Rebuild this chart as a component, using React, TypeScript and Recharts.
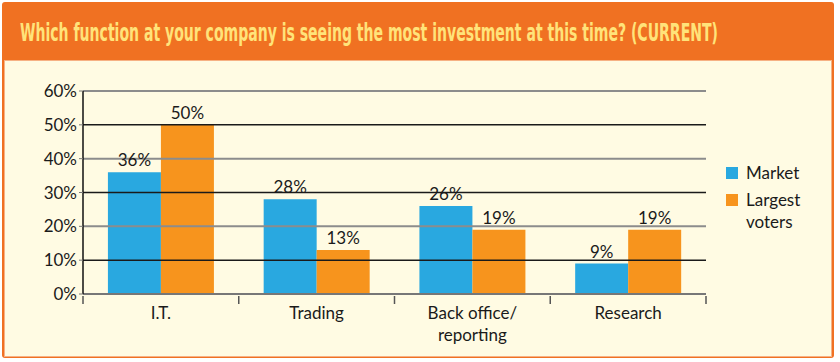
import { BarChart, Bar, XAxis, YAxis, ReferenceLine, LabelList } from "recharts";

const categories = ["I.T.", "Trading", "Back office/\nreporting", "Research"];
const marketValues = [36, 28, 26, 9];
const largestVoterValues = [50, 13, 19, 19];
const yTicks = [0, 10, 20, 30, 40, 50, 60];

const BLUE = "#29a8e0";
const ORANGE = "#f7941d";
const TEXT_FONT = "Lato, 'Open Sans', sans-serif";
const TITLE_SQUEEZE = 0.56;

const data = categories.map((name, i) => ({
  name,
  market: marketValues[i],
  largest: largestVoterValues[i],
}));

const CategoryTick = (props: any) => {
  const { x, y, payload, index, visibleTicksCount } = props;
  const half = payload.offset ?? 0;
  const lines = String(payload.value).split("\n");
  return (
    <g>
      <line x1={x - half} x2={x - half} y1={y - 6} y2={y + 2} stroke="#555" strokeWidth={1.5} />
      {index === visibleTicksCount - 1 && (
        <line x1={x + half} x2={x + half} y1={y - 6} y2={y + 2} stroke="#555" strokeWidth={1.5} />
      )}
      <text x={x} y={y + 17} textAnchor="middle" fill="#1a1a1a" fontSize={17} fontFamily={TEXT_FONT}>
        {lines.map((l, i) => (
          <tspan key={i} x={x} dy={i === 0 ? 0 : 22}>
            {l}
          </tspan>
        ))}
      </text>
    </g>
  );
};

const LegendBox = () => (
  <div
    style={{
      position: "absolute",
      left: 726,
      top: 162,
      fontFamily: TEXT_FONT,
      fontSize: 17,
      color: "#1a1a1a",
      lineHeight: "22px",
    }}
  >
    <div style={{ display: "flex", alignItems: "center", marginBottom: 5 }}>
      <span style={{ width: 12, height: 12, background: BLUE, marginRight: 8 }} />
      Market
    </div>
    <div style={{ display: "flex", alignItems: "flex-start" }}>
      <span style={{ width: 12, height: 12, background: ORANGE, marginRight: 8, marginTop: 5 }} />
      <span>
        Largest
        <br />
        voters
      </span>
    </div>
  </div>
);

export default function App() {
  return (
    <div style={{ position: "absolute", left: 0, top: 0, width: 840, height: 362, background: "#fff" }}>
      <div
        style={{
          position: "absolute",
          left: 2,
          top: 2,
          width: 832,
          height: 356,
          background: "#f07122",
          borderRadius: 3,
        }}
      >
        <svg width={832} height={58} style={{ position: "absolute", left: 0, top: 0 }}>
          <g transform={`translate(18,39) scale(${TITLE_SQUEEZE},1)`}>
            <text
              x={0}
              y={0}
              textLength={698 / TITLE_SQUEEZE}
              lengthAdjust="spacingAndGlyphs"
              fontFamily="'DejaVu Sans', sans-serif"
              fontWeight="bold"
              fontSize={25}
              fill="#ffe37a"
            >
              Which function at your company is seeing the most investment at this time? (CURRENT)
            </text>
          </g>
        </svg>
        <div
          style={{
            position: "absolute",
            left: 2,
            top: 58,
            width: 826,
            height: 295,
            background: "#fffbe3",
            border: "1px solid #f6b184",
          }}
        />
      </div>
      <div style={{ position: "absolute", left: 0, top: 0 }}>
        <BarChart
          width={840}
          height={362}
          data={data}
          margin={{ top: 91, right: 134, bottom: 8, left: 0 }}
          barCategoryGap="16%"
          barGap={0}
        >
          <XAxis
            dataKey="name"
            height={60}
            axisLine={{ stroke: "#777", strokeWidth: 2 }}
            tickLine={false}
            tick={<CategoryTick />}
            interval={0}
          />
          <YAxis
            width={83}
            domain={[0, 60]}
            ticks={yTicks}
            axisLine={{ stroke: "#111", strokeWidth: 1.5 }}
            tickLine={{ stroke: "#777" }}
            tickSize={4}
            tickFormatter={(v) => `${v}%`}
            tick={{ fill: "#1a1a1a", fontSize: 17, fontFamily: TEXT_FONT }}
          />
          {yTicks.slice(1).map((t) => (
            <ReferenceLine
              key={t}
              y={t}
              stroke={t % 20 === 0 ? "#8c8c8c" : "#1a1a1a"}
              strokeWidth={t % 20 === 0 ? 2 : 1.5}
            />
          ))}
          <Bar dataKey="market" name="Market" fill={BLUE} isAnimationActive={false}>
            <LabelList
              dataKey="market"
              position="top"
              offset={6}
              formatter={(v: any) => `${v}%`}
              style={{ fill: "#1a1a1a", fontSize: 17, fontFamily: TEXT_FONT }}
            />
          </Bar>
          <Bar dataKey="largest" name="Largest voters" fill={ORANGE} isAnimationActive={false}>
            <LabelList
              dataKey="largest"
              position="top"
              offset={6}
              formatter={(v: any) => `${v}%`}
              style={{ fill: "#1a1a1a", fontSize: 17, fontFamily: TEXT_FONT }}
            />
          </Bar>
        </BarChart>
      </div>
      <LegendBox />
    </div>
  );
}
